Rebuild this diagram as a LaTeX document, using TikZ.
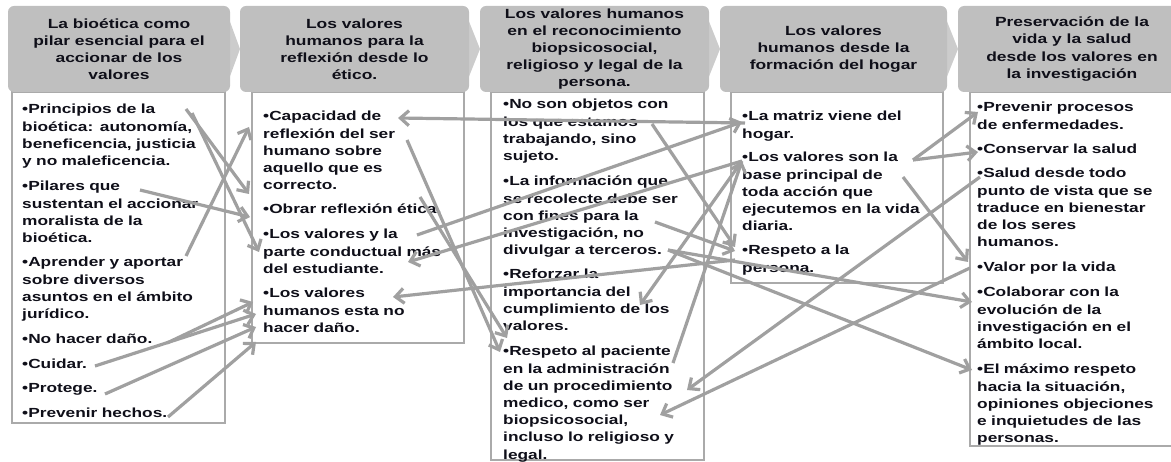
\documentclass[tikz,border=0pt]{standalone}
\usepackage{fontspec}
\setmainfont[FakeStretch=1.31]{Liberation Sans}
\usetikzlibrary{arrows.meta}
\definecolor{hdrfill}{RGB}{191,191,191}
\definecolor{chevfill}{RGB}{204,204,204}
\definecolor{boxline}{RGB}{170,170,170}
\definecolor{arrowc}{RGB}{160,160,160}
\definecolor{txt}{RGB}{15,15,25}
\begin{document}
\begin{tikzpicture}[x=1pt,y=-1pt,
  hdrbox/.style={fill=hdrfill, draw=none, rounded corners=6pt, inner sep=0pt, align=center,
    font=\fontsize{13.3}{17.1}\selectfont\bfseries, text=txt},
  bodybox/.style={draw=boxline, line width=1.3pt, fill=white, inner sep=0pt},
  itm/.style={anchor=base west, inner sep=0pt, text width=215pt, align=left,
    font=\fontsize{13.2}{17.2}\selectfont\bfseries, text=txt},
  arr/.style={draw=arrowc, line width=3.2pt, -{Straight Barb[length=8.5pt,width=15pt]}}]
\useasboundingbox (0,0) rectangle (1171,462);
\clip (0,0) rectangle (1171,462);

% body boxes
\node[bodybox, minimum width=213pt, minimum height=331pt] (b1) at (118.5,257.5) {};
\node[bodybox, minimum width=212pt, minimum height=251pt] (b2) at (358,217.5) {};
\node[bodybox, minimum width=213pt, minimum height=368pt] (b3) at (597.5,276) {};
\node[bodybox, minimum width=212pt, minimum height=191pt] (b4) at (837,187.5) {};
\node[bodybox, minimum width=211pt, minimum height=354pt] (b5) at (1075.5,269) {};

% chevrons between headers
\fill[chevfill] (229,19) -- (240,49) -- (229,79) -- cycle;
\fill[chevfill] (468,19) -- (480,49) -- (468,79) -- cycle;
\fill[chevfill] (708,19) -- (720,49) -- (708,79) -- cycle;
\fill[chevfill] (946,19) -- (958,49) -- (946,79) -- cycle;

% headers
\node[hdrbox, minimum width=222pt, minimum height=86pt] (h1) at (119,49)
  {La bioética como\\pilar esencial para el\\accionar de los\\valores};
\node[hdrbox, minimum width=229pt, minimum height=86pt] (h2) at (354.5,49)
  {Los valores\\humanos para la\\reflexión desde lo\\ético.};
\node[hdrbox, minimum width=229pt, minimum height=86pt] (h3) at (594.5,49)
  {Los valores humanos\\en el reconocimiento\\biopsicosocial,\\religioso y legal de la\\persona.};
\node[hdrbox, minimum width=227pt, minimum height=86pt] (h4) at (833.5,49)
  {Los valores\\humanos desde la\\formación del hogar};
\node[hdrbox, minimum width=228pt, minimum height=86pt] (h5) at (1072,49)
  {Preservación de la\\vida y la salud\\desde los valores en\\la investigación};

% items column 1
\node[itm] (i1a) at (22,114) {•Principios de la\\bioética: autonomía,\\beneficencia, justicia\\y no maleficencia.};
\node[itm] (i1b) at (22,191) {•Pilares que\\sustentan el accionar\\moralista de la\\bioética.};
\node[itm] (i1c) at (22,267) {•Aprender y aportar\\sobre diversos\\asuntos en el ámbito\\jurídico.};
\node[itm] (i1d) at (22,344) {•No hacer daño.};
\node[itm] (i1e) at (22,369) {•Cuidar.};
\node[itm] (i1f) at (22,393) {•Protege.};
\node[itm] (i1g) at (22,418) {•Prevenir hechos.};
% column 2
\node[itm] (i2a) at (263,121) {•Capacidad de\\reflexión del ser\\humano sobre\\aquello que es\\correcto.};
\node[itm] (i2b) at (263,214) {•Obrar reflexión ética.};
\node[itm] (i2c) at (263,239) {•Los valores y la\\parte conductual más\\del estudiante.};
\node[itm] (i2d) at (263,298) {•Los valores\\humanos esta no\\hacer daño.};
% column 3
\node[itm] (i3a) at (503,109) {•No son objetos con\\los que estamos\\trabajando, sino\\sujeto.};
\node[itm] (i3b) at (503,186) {•La información que\\se recolecte debe ser\\con fines para la\\investigación, no\\divulgar a terceros.};
\node[itm] (i3c) at (503,279) {•Reforzar la\\importancia del\\cumplimiento de los\\valores.};
\node[itm] (i3d) at (503,356) {•Respeto al paciente\\en la administración\\de un procedimiento\\medico, como ser\\biopsicosocial,\\incluso lo religioso y\\legal.};
% column 4
\node[itm] (i4a) at (742,121) {•La matriz viene del\\hogar.};
\node[itm] (i4b) at (742,162) {•Los valores son la\\base principal de\\toda acción que\\ejecutemos en la vida\\diaria.};
\node[itm] (i4c) at (742,255) {•Respeto a la\\persona.};
% column 5
\node[itm] (i5a) at (977,112) {•Prevenir procesos\\de enfermedades.};
\node[itm] (i5b) at (977,154) {•Conservar la salud};
\node[itm] (i5c) at (977,178) {•Salud desde todo\\punto de vista que se\\traduce en bienestar\\de los seres\\humanos.};
\node[itm] (i5d) at (977,272) {•Valor por la vida};
\node[itm] (i5e) at (977,297) {•Colaborar con la\\evolución de la\\investigación en el\\ámbito local.};
\node[itm] (i5f) at (977,374) {•El máximo respeto\\hacia la situación,\\opiniones objeciones\\e inquietudes de las\\personas.};

% connector end points
\coordinate (princA) at (186,109);  \coordinate (obrarA) at (249,194);
\coordinate (princB) at (192,113);  \coordinate (losvyA) at (259,252);
\coordinate (pilarA) at (140,190);  \coordinate (obrarB) at (250,217);
\coordinate (aprenA) at (186,256);  \coordinate (capacA) at (249,127);
\coordinate (nohacA) at (167,343);  \coordinate (vhumA) at (253,302);
\coordinate (cuidA) at (95,366);    \coordinate (vhumB) at (256,314);
\coordinate (protA) at (105,394);   \coordinate (vhumC) at (256,327);
\coordinate (prevA) at (168,417);   \coordinate (vhumD) at (256,342);

\coordinate (matrizL) at (745,123); \coordinate (capacB) at (398,118);
\coordinate (losvyB) at (417,235);  \coordinate (matrizR) at (742,122);
\coordinate (sonlaL) at (742,161);  \coordinate (parteA) at (408,262);
\coordinate (respPacA) at (673,363);
\coordinate (estamosA) at (652,124); \coordinate (respPerA) at (735,247);
\coordinate (serA) at (407,140);    \coordinate (respPacB) at (500,352);
\coordinate (eticaA) at (420,197);  \coordinate (respPacC) at (507,338);
\coordinate (respPerB) at (735,260); \coordinate (vhumE) at (393,297);
\coordinate (cumplA) at (640,305);
\coordinate (finesA) at (655,222);  \coordinate (respPerC) at (735,251);
\coordinate (tercA) at (668,250);   \coordinate (maximoA) at (972,370);
\coordinate (colabA) at (972,302);
\coordinate (sonlaR) at (913,160);  \coordinate (prevenA) at (978,112);
\coordinate (conservA) at (978,152);
\coordinate (baseA) at (903,177);   \coordinate (valorA) at (968,262);
\coordinate (saludA) at (980,177);  \coordinate (procedA) at (687,390);
\coordinate (valorB) at (970,268);  \coordinate (medicoA) at (660,415);

% connectors
\draw[arr] (princA) -- (obrarA);
\draw[arr] (princB) -- (losvyA);
\draw[arr] (pilarA) -- (obrarB);
\draw[arr] (aprenA) -- (capacA);
\draw[arr] (nohacA) -- (vhumA);
\draw[arr] (cuidA) -- (vhumB);
\draw[arr] (protA) -- (vhumC);
\draw[arr] (prevA) -- (vhumD);

\draw[arr] (matrizL) -- (capacB);
\draw[arr] (losvyB) -- (matrizR);
\draw[arr] (sonlaL) -- (parteA);
\draw[arr] (respPacA) -- (sonlaL);
\draw[arr] (estamosA) -- (respPerA);
\draw[arr] (serA) -- (respPacB);
\draw[arr] (eticaA) -- (respPacC);
\draw[arr] (respPerB) -- (vhumE);
\draw[arr] (sonlaL) -- (cumplA);
\draw[arr] (finesA) -- (respPerC);
\draw[arr] (tercA) -- (maximoA);
\draw[arr] (tercA) -- (colabA);
\draw[arr] (sonlaR) -- (prevenA);
\draw[arr] (sonlaR) -- (conservA);
\draw[arr] (baseA) -- (valorA);
\draw[arr] (saludA) -- (procedA);
\draw[arr] (valorB) -- (medicoA);
\end{tikzpicture}
\end{document}
